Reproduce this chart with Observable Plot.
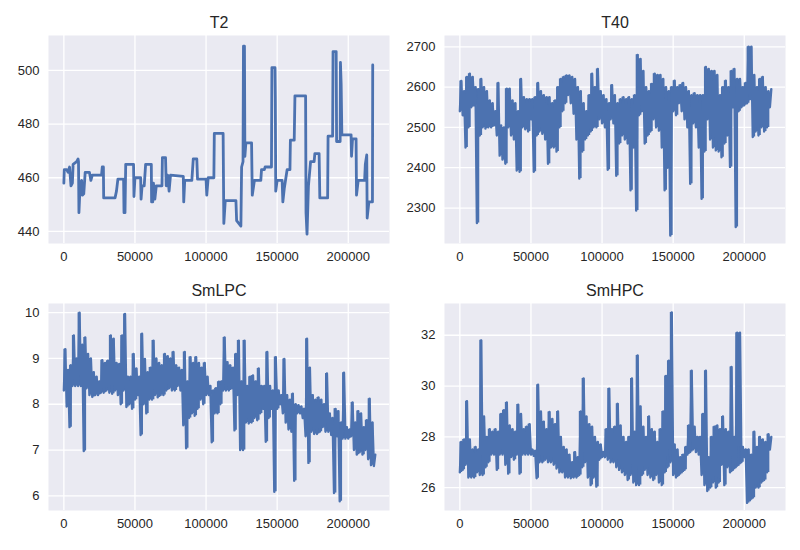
<!DOCTYPE html>
<html><head><meta charset="utf-8">
<script src="https://cdn.jsdelivr.net/npm/d3@7"></script>
<script src="https://cdn.jsdelivr.net/npm/@observablehq/plot@0.6"></script>
<style>
body{margin:0;background:#fff;font-family:"Liberation Sans",Arial,sans-serif;}
#wrap{position:relative;width:800px;height:550px;overflow:hidden;}
.panel{position:absolute;}
</style></head>
<body><div id="wrap"></div>
<script>
// ---- data ----
const xTicks = [0, 50000, 100000, 150000, 200000];
const binStep = 2000; // noisy series: min/max band per 2000-sample bin

// T2: step-like signal, breakpoints (x in thousands of samples)
const t2X = [0,0.3,2,3,4,5,6,6.5,9,10,10.3,10.6,11.5,12.5,13,14,14.5,15,18,19,20,26.5,27,27.8,28,36,37,38,42,42.3,43,43.5,49,49.3,50,54,54.3,55,56.5,57.5,61.5,61.7,62.5,63,64,65,69,69.3,71.5,72,73,74,75,84,84.3,85,90,91,93.5,94,100,100.5,101.5,105.5,105.8,112,112.5,113.5,121,121.5,124.5,125,126,126.3,127,127.3,128,132,132.5,134,138.5,139,141,141.5,146,146.3,148.5,148.7,149,150,153.5,154,155,157,159,159.3,162,162.5,170,170.3,171,172,173.5,176,176.5,179.5,180,185.5,185.8,189,189.3,191.5,191.8,194.3,194.5,195,195.5,202,202.3,203,205.5,205.8,207,211.5,212,213,213.3,214.5,217,217.2];
const t2Y = [458,463,463,462,464,457,458,465,466,467,466,447,458,459,453.5,454,458,462,462,459,461,461,464,464,452.5,452.5,455,459.5,459.5,447,447,465,465,453,460,460,452,457,457,465,465,451,451,458,452,457,457,467.5,467.5,457,461,455,461,460.5,451,459,459,467,467,459.5,459.5,453.5,460,460,476.5,476.5,443,451.5,451.5,444,442,464,466,509,509,468,473,473,453.5,459,459,463,463,464,464,501,501,490,455,459,459,451,456,463,463,474,474,490.5,490.5,447,439,457,466,466,469,469,452.5,452.5,475.5,475.5,507,507,473.5,473.5,503,495,476,476,468,474.5,474.5,453.5,459,459,465,468.5,445,451,451,502];

// T40 band (bins of 2000 samples starting at 0)
const t40Lo = [2540,2530,2450,2500,2550,2555,2263,2480,2500,2497,
  2500,2500,2505,2480,2430,2420,2410,2500,2480,2470,
  2393,2390,2500,2495,2490,2520,2390,2480,2490,2484,
  2470,2410,2450,2450,2440,2500,2540,2560,2580,2560,
  2534,2470,2373,2440,2470,2480,2490,2500,2500,2520,
  2510,2500,2395,2520,2510,2380,2460,2480,2470,2460,
  2344,2450,2294,2530,2540,2460,2480,2490,2520,2500,
  2492,2450,2344,2400,2232,2540,2530,2560,2540,2520,
  2500,2360,2510,2500,2450,2323,2440,2520,2470,2450,
  2443,2440,2426,2460,2480,2402,2550,2253,2540,2550,
  2555,2560,2570,2476,2490,2480,2500,2490,2500,2550];
const t40Hi = [2615,2590,2625,2633,2625,2600,2595,2620,2600,2590,
  2567,2560,2540,2610,2505,2500,2596,2596,2567,2560,
  2540,2620,2575,2570,2570,2570,2575,2610,2590,2580,
  2575,2575,2560,2567,2600,2620,2625,2629,2629,2625,
  2620,2600,2590,2560,2540,2580,2633,2600,2645,2590,
  2580,2570,2560,2605,2580,2560,2570,2575,2570,2575,
  2570,2580,2680,2670,2640,2600,2590,2608,2633,2630,
  2630,2620,2600,2590,2600,2616,2600,2605,2610,2600,
  2590,2580,2585,2580,2580,2580,2650,2645,2640,2640,
  2630,2580,2600,2616,2600,2640,2645,2620,2620,2600,
  2610,2700,2700,2630,2600,2620,2625,2600,2590,2595];

// SmLPC band
const lpcLo = [8.3,7.95,7.5,8.4,8.4,8.4,8.4,6.98,8.35,8.2,
  8.16,8.2,8.2,8.25,8.25,8.3,8.25,8.23,8.3,8.2,
  8.0,8.3,7.94,8.0,7.9,8.1,8.2,7.33,8.0,7.8,
  8.1,8.1,8.2,8.15,8.2,8.2,8.3,8.35,8.3,8.3,
  8.4,8.3,7.54,7.04,7.7,7.8,7.75,7.9,8.1,8.0,
  8.2,8.2,7.17,7.8,7.8,8.0,8.3,8.3,8.3,8.35,
  7.43,8.2,7.0,7.0,7.6,7.58,7.6,7.7,7.65,7.8,
  7.9,7.18,7.7,7.9,6.09,7.9,8.0,7.8,7.6,7.45,
  7.4,6.33,7.8,7.8,7.7,7.3,6.72,7.4,7.35,7.35,
  7.4,7.5,7.4,7.4,7.33,6.06,7.3,5.88,7.25,7.25,
  7.25,7.3,7.0,6.9,6.95,6.9,7.0,6.8,6.67,6.65];
const lpcHi = [9.2,8.75,8.85,9.5,9.0,10.0,9.3,9.46,9.1,9.0,
  8.7,8.6,8.5,8.96,8.9,8.95,9.5,9.43,8.9,8.88,
  9.5,9.97,8.6,8.6,9.1,8.78,8.6,9.54,8.99,8.7,
  8.8,9.39,9.0,8.9,8.85,9.1,9.05,9.0,9.14,8.85,
  8.8,8.75,9.14,8.5,9.03,8.9,9.03,8.9,8.8,8.9,
  8.6,8.4,8.3,8.35,8.49,8.5,9.46,8.92,8.85,8.8,
  9.1,9.39,8.5,9.39,8.4,8.6,8.63,8.5,8.78,8.4,
  8.4,9.14,8.4,8.3,9.03,8.3,8.2,8.99,8.2,8.1,
  8.23,8.0,7.98,7.95,7.9,9.43,8.8,8.2,8.1,8.15,
  8.1,8.0,8.67,7.8,7.7,7.9,7.85,7.6,8.69,7.5,
  7.45,8.04,7.6,7.85,7.8,7.5,7.65,8.12,7.6,6.9];

// SmHPC band
const hpcLo = [26.6,26.7,26.9,26.4,26.4,26.4,26.6,26.5,26.5,26.8,
  27.0,27.3,27.3,26.7,27.3,27.3,26.9,26.55,27.2,27.1,
  27.3,26.55,27.3,27.3,27.3,27.3,27.25,26.37,27.0,27.0,
  27.1,27.0,27.0,26.9,26.75,26.6,26.6,26.4,26.4,26.37,
  26.4,26.4,26.5,26.8,27.0,26.4,26.1,26.4,26.04,27.1,
  27.2,27.2,27.1,27.0,27.0,26.8,26.7,26.6,26.5,26.3,
  26.5,26.2,26.1,26.1,26.5,26.7,26.5,26.4,26.3,26.5,
  26.2,26.1,26.6,26.8,27.0,26.5,26.4,26.5,26.6,26.7,
  27.3,27.4,27.5,27.4,27.3,26.5,26.1,25.87,26.0,26.2,
  26.0,26.2,26.9,26.1,26.8,26.6,26.7,26.8,26.9,27.0,
  27.2,25.4,25.5,25.6,26.0,26.0,26.2,26.3,26.6,27.5];
const hpcHi = [27.8,27.9,29.4,27.9,27.5,27.6,27.5,31.8,28.8,28.0,
  28.3,28.2,28.3,28.2,28.9,29.05,29.35,28.45,28.3,28.2,
  29.27,28.9,28.3,28.4,28.5,27.5,27.45,30.05,29.0,28.6,
  28.3,28.98,28.7,28.5,29.0,28.0,27.6,27.5,27.3,27.0,
  27.4,27.2,29.0,30.3,28.8,28.5,28.4,28.0,27.8,27.7,
  27.4,28.3,29.9,28.3,28.4,29.3,28.45,28.0,27.8,28.0,
  30.3,28.2,31.2,29.2,28.4,28.0,28.8,28.3,28.2,27.8,
  28.3,29.0,30.4,31.0,32.9,27.7,27.5,27.2,27.3,27.6,
  28.45,30.6,28.4,28.0,28.0,28.9,30.6,27.2,28.0,28.4,
  28.45,28.3,28.8,28.3,28.2,30.75,28.0,32.1,32.1,27.6,
  27.5,27.5,27.3,28.2,27.6,28.0,27.9,27.8,28.1,28.0];

// ---- build point tables ----
const t2Data = t2X.map((x, i) => ({x: x * 1000, y: t2Y[i]}));
function bandToLine(lo, hi) {
  const out = [];
  lo.forEach((v, i) => {
    out.push({x: i * binStep, y: v});
    out.push({x: i * binStep + binStep / 2, y: hi[i]});
  });
  return out;
}
function bandRows(lo, hi) {
  return lo.map((v, i) => ({x: i * binStep, lo: v, hi: hi[i]}));
}

const font = '"Liberation Sans", Arial, sans-serif';
const blue = "#4C72B0";
function panel(cfg) {
  const marks = [
    Plot.frame({fill: "#EAEAF2", stroke: null}),
    Plot.gridX({ticks: xTicks, stroke: "#fff", strokeOpacity: 1, strokeWidth: 1.3}),
    Plot.gridY({ticks: cfg.yTicks, stroke: "#fff", strokeOpacity: 1, strokeWidth: 1.3})
  ];
  if (cfg.band) {
    marks.push(Plot.areaY(bandRows(cfg.band[0], cfg.band[1]), {x: "x", y1: "lo", y2: "hi", fill: blue, fillOpacity: 1, curve: "step-after"}));
    marks.push(Plot.line(bandToLine(cfg.band[0], cfg.band[1]), {x: "x", y: "y", stroke: blue, strokeWidth: 2.4, strokeLinejoin: "round"}));
  } else {
    marks.push(Plot.line(cfg.data, {x: "x", y: "y", stroke: blue, strokeWidth: 2.8, strokeLinejoin: "round"}));
  }
  marks.push(
    Plot.axisX({ticks: xTicks, tickSize: 0, tickPadding: 8, tickFormat: d => String(d), fill: "#262626", fontSize: 13}),
    Plot.axisY({ticks: cfg.yTicks, tickSize: 0, tickPadding: 9, tickFormat: d => String(d), fill: "#262626", fontSize: 13}),
    Plot.text([cfg.title], {frameAnchor: "top", lineAnchor: "bottom", dy: -8, fontSize: 16, fill: "#262626", text: d => d})
  );
  const p = Plot.plot({
    width: cfg.width, height: cfg.height,
    marginLeft: cfg.ml, marginRight: cfg.mr, marginTop: cfg.mt, marginBottom: cfg.mb,
    x: {domain: [-10800, 229000], label: null},
    y: {domain: cfg.yDomain, label: null},
    style: {fontFamily: font, fontSize: "13px", color: "#262626", background: "transparent", overflow: "visible"},
    marks
  });
  p.classList.add("panel");
  p.style.left = cfg.left + "px";
  p.style.top = cfg.top + "px";
  document.getElementById("wrap").appendChild(p);
}

panel({title: "T2", data: t2Data, yDomain: [435.5, 513], yTicks: [440, 460, 480, 500],
  left: 0, top: 0, width: 400, height: 270, ml: 48, mr: 11, mt: 35, mb: 27});
panel({title: "T40", band: [t40Lo, t40Hi], yDomain: [2212, 2728], yTicks: [2300, 2400, 2500, 2600, 2700],
  left: 400, top: 0, width: 400, height: 270, ml: 44, mr: 15, mt: 35, mb: 27});
panel({title: "SmLPC", band: [lpcLo, lpcHi], yDomain: [5.68, 10.2], yTicks: [6, 7, 8, 9, 10],
  left: 0, top: 270, width: 400, height: 280, ml: 48, mr: 11, mt: 33, mb: 40});
panel({title: "SmHPC", band: [hpcLo, hpcHi], yDomain: [25.1, 33.25], yTicks: [26, 28, 30, 32],
  left: 400, top: 270, width: 400, height: 280, ml: 44, mr: 15, mt: 33, mb: 40});
</script>
</body></html>
